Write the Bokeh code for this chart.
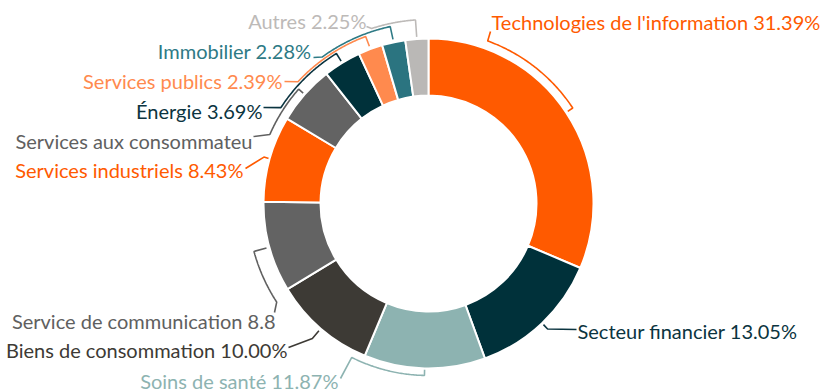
import numpy as np
from bokeh.plotting import figure
from bokeh.models import Range1d
from bokeh.embed import file_html
from bokeh.resources import INLINE
from bokeh.core.properties import value

W, H = 820, 391

# Sector allocation (percent of portfolio), clockwise from 12 o'clock
sectors = ["Technologies de l'information", "Secteur financier", "Soins de santé",
           "Biens de consommation", "Service de communication", "Services industriels",
           "Services aux consommateurs", "Énergie", "Services publics", "Immobilier", "Autres"]
weights = [31.39, 13.05, 11.87, 10.00, 8.85, 8.43, 5.80, 3.69, 2.39, 2.28, 2.25]
# Label texts as they appear (two long ones run out of room)
labels = ["Technologies de l'information 31.39%", "Secteur financier 13.05%",
          "Soins de santé 11.87%", "Biens de consommation 10.00%",
          "Service de communication 8.8", "Services industriels 8.43%",
          "Services aux consommateu", "Énergie 3.69%", "Services publics 2.39%",
          "Immobilier 2.28%", "Autres 2.25%"]

slice_colors = ["#FF5A00", "#00313A", "#8DB3B1", "#3D3A35", "#636363", "#FF5A00",
                "#636363", "#00313A", "#FF8A4E", "#2B7480", "#BAB8B6"]
label_colors = ["#FF5A00", "#0B3440", "#8DB3B1", "#3D3A35", "#606060", "#FF5A00",
                "#606060", "#0B3440", "#FF8A4E", "#2E7A85", "#BDBAB8"]

# Donut geometry in screen pixels (y measured downward from the top)
CX, CY = 428, 203
R_OUT, R_IN = 165, 108

# Connector layout per label:
# (tick start radius, bracket radius, bracket end angle or None, end point x, end point y,
#  text x, text vertical centre y, text alignment)
layout = [
    (167, 173, 20.0, 490, 31, 491, 21, "left"),
    (167, 173, None, 576, 329, 577, 330, "left"),
    (166, 172, 206.5, 340, 378, 338, 380, "right"),
    (168, 178, None, 288, 347, 287, 349, "right"),
    (168, 181, 237.0, 274, 312, 275, 320, "right"),
    (166, 171, None, 245, 168, 243, 169, "right"),
    (167, 173, 293.5, 253, 136, 252, 140, "right"),
    (167, 176, 303.0, 263, 107, 262, 110, "right"),
    (168, 178.5, 313.0, 284, 81, 282, 80, "right"),
    (168, 181, 324.0, 313, 57, 311, 50, "right"),
    (167, 184, 342.0, 366, 26, 366, 20, "right"),
]


def to_data(xs, ys):
    return np.asarray(xs, dtype=float), H - np.asarray(ys, dtype=float)


def polar(r, deg):
    t = np.radians(deg)
    return CX + r * np.sin(t), CY - r * np.cos(t)


vals = np.array(weights)
ends = np.cumsum(vals) / vals.sum() * 360.0
starts = np.concatenate([[0.0], ends[:-1]])
mids = (starts + ends) / 2

p = figure(width=W, height=H, output_backend="svg", toolbar_location=None,
           x_range=Range1d(0, W), y_range=Range1d(0, H), min_border=0)
p.axis.visible = False
p.grid.visible = False
p.outline_line_color = None
p.background_fill_color = "white"

# Leader lines: radial tick, bracket arc along the ring, then a segment to the label
line_xs, line_ys = [], []
for i, (r0, r1, a_end, ex, ey, tx, ty, al) in enumerate(layout):
    m = mids[i]
    px, py = [], []
    x0, y0 = polar(r0, m)
    px.append(x0); py.append(y0)
    if a_end is None:
        x1, y1 = polar(r1, m)
        px.append(x1); py.append(y1)
    else:
        angs = np.linspace(m, a_end, 60)
        ax, ay = polar(r1, angs)
        px.extend(ax); py.extend(ay)
    px.append(ex); py.append(ey)
    dx, dy = to_data(px, py)
    line_xs.append(list(dx)); line_ys.append(list(dy))

p.multi_line(xs=line_xs, ys=line_ys, line_color=label_colors, line_width=1.6)

# Ring slices
cxd, cyd = CX, H - CY
p.annular_wedge(x=cxd, y=cyd, inner_radius=R_IN, outer_radius=R_OUT,
                start_angle=np.radians(90 - starts), end_angle=np.radians(90 - ends),
                direction="clock", fill_color=slice_colors,
                line_color="white", line_width=2)

# Labels
for i, (r0, r1, a_end, ex, ey, tx, ty, al) in enumerate(layout):
    xd, yd = to_data([tx], [ty])
    p.text(x=list(xd), y=list(yd), text=[labels[i]], text_align=al,
           text_baseline="middle", text_color=label_colors[i],
           text_font=value("Lato"), text_font_size="20px")

open("out.html", "w").write(file_html(p, INLINE))
